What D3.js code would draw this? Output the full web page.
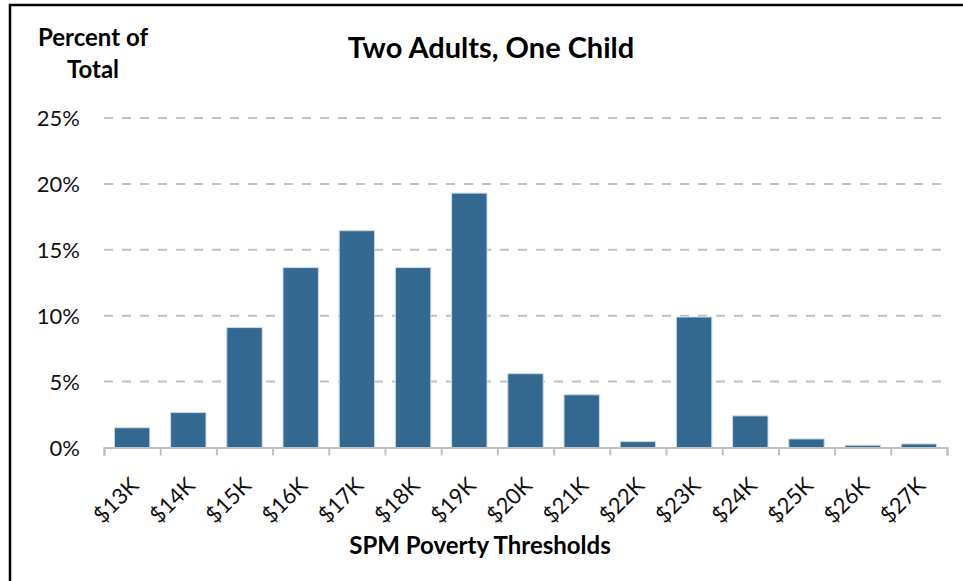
<!DOCTYPE html>
<html>
<head>
<meta charset="utf-8">
<script src="https://cdn.jsdelivr.net/npm/d3@7"></script>
<style>
  body { margin: 0; background: #fff; }
  svg { display: block; font-family: Lato, "Open Sans", sans-serif; }
  .grid line { stroke: #c0c0c0; stroke-width: 2; stroke-dasharray: 9 9; }
  .axis path, .axis line { stroke: #bfbfbf; stroke-width: 2; }
</style>
</head>
<body>
<svg id="chart" width="963" height="581"></svg>
<script>
// Data
var thresholds = ["$13K", "$14K", "$15K", "$16K", "$17K", "$18K", "$19K", "$20K",
                  "$21K", "$22K", "$23K", "$24K", "$25K", "$26K", "$27K"];
var percentOfTotal = [1.5, 2.65, 9.1, 13.65, 16.45, 13.65, 19.3, 5.6,
                      4.0, 0.45, 9.9, 2.4, 0.65, 0.17, 0.27];
var yTicks = [0, 5, 10, 15, 20, 25];

var svg = d3.select("#chart");

var plotLeft = 104, plotRight = 947, plotTop = 118, plotBottom = 447.5;

var x = d3.scaleBand()
    .domain(thresholds)
    .range([plotLeft, plotRight])
    .paddingInner(0.37)
    .paddingOuter(0.185);

var xEdge = d3.scaleLinear().domain([0, thresholds.length]).range([plotLeft, plotRight]);

var y = d3.scaleLinear().domain([0, 25]).range([plotBottom, plotTop]);

// Frame
svg.append("rect")
    .attr("x", 10).attr("y", 5)
    .attr("width", 980).attr("height", 600)
    .attr("fill", "none")
    .attr("stroke", "#000")
    .attr("stroke-width", 2.5);

// Dashed gridlines
svg.append("g")
    .attr("class", "grid")
    .selectAll("line")
    .data(yTicks.filter(function(d) { return d > 0; }))
    .enter().append("line")
    .attr("x1", plotLeft).attr("x2", plotRight)
    .attr("y1", function(d) { return y(d); })
    .attr("y2", function(d) { return y(d); });

// Y axis labels
var yAxis = d3.axisLeft(y)
    .tickValues(yTicks)
    .tickSize(0)
    .tickPadding(0)
    .tickFormat(function(d) { return d + "%"; });

var gy = svg.append("g")
    .attr("transform", "translate(80,0)")
    .call(yAxis);
gy.select(".domain").remove();
gy.selectAll("text")
    .attr("dy", "0.36em")
    .style("font-family", "Lato, sans-serif")
    .style("font-size", "22px")
    .style("fill", "#111");

// Bars
svg.append("g")
    .selectAll("rect")
    .data(percentOfTotal)
    .enter().append("rect")
    .attr("x", function(d, i) { return x(thresholds[i]); })
    .attr("width", x.bandwidth())
    .attr("y", function(d) { return y(d); })
    .attr("height", function(d) { return y(0) - y(d); })
    .attr("fill", "#336990")
    .attr("stroke", "#c9dbe8")
    .attr("stroke-width", 1);

// X axis line with ticks at band edges
svg.append("g")
    .attr("class", "axis")
    .attr("transform", "translate(0," + plotBottom + ")")
    .call(d3.axisBottom(xEdge)
        .tickValues(d3.range(thresholds.length + 1))
        .tickSize(8)
        .tickSizeOuter(8)
        .tickFormat(""));

// Rotated category labels
svg.append("g")
    .selectAll("text")
    .data(thresholds)
    .enter().append("text")
    .attr("transform", function(d) {
        return "translate(" + (x(d) + x.bandwidth() / 2 + 8) + ",487) rotate(-45)";
    })
    .attr("text-anchor", "end")
    .style("font-size", "22px")
    .style("fill", "#111")
    .text(function(d) { return d; });

// Titles
svg.append("text")
    .attr("x", 491).attr("y", 58)
    .attr("text-anchor", "middle")
    .style("font-size", "29px")
    .style("font-weight", "bold")
    .text("Two Adults, One Child");

svg.append("text")
    .attr("x", 93).attr("y", 46)
    .attr("text-anchor", "middle")
    .style("font-size", "24px")
    .style("font-weight", "bold")
    .text("Percent of");

svg.append("text")
    .attr("x", 93).attr("y", 78)
    .attr("text-anchor", "middle")
    .style("font-size", "24px")
    .style("font-weight", "bold")
    .text("Total");

svg.append("text")
    .attr("x", 480).attr("y", 554)
    .attr("text-anchor", "middle")
    .style("font-size", "24px")
    .style("font-weight", "bold")
    .text("SPM Poverty Thresholds");
</script>
</body>
</html>
